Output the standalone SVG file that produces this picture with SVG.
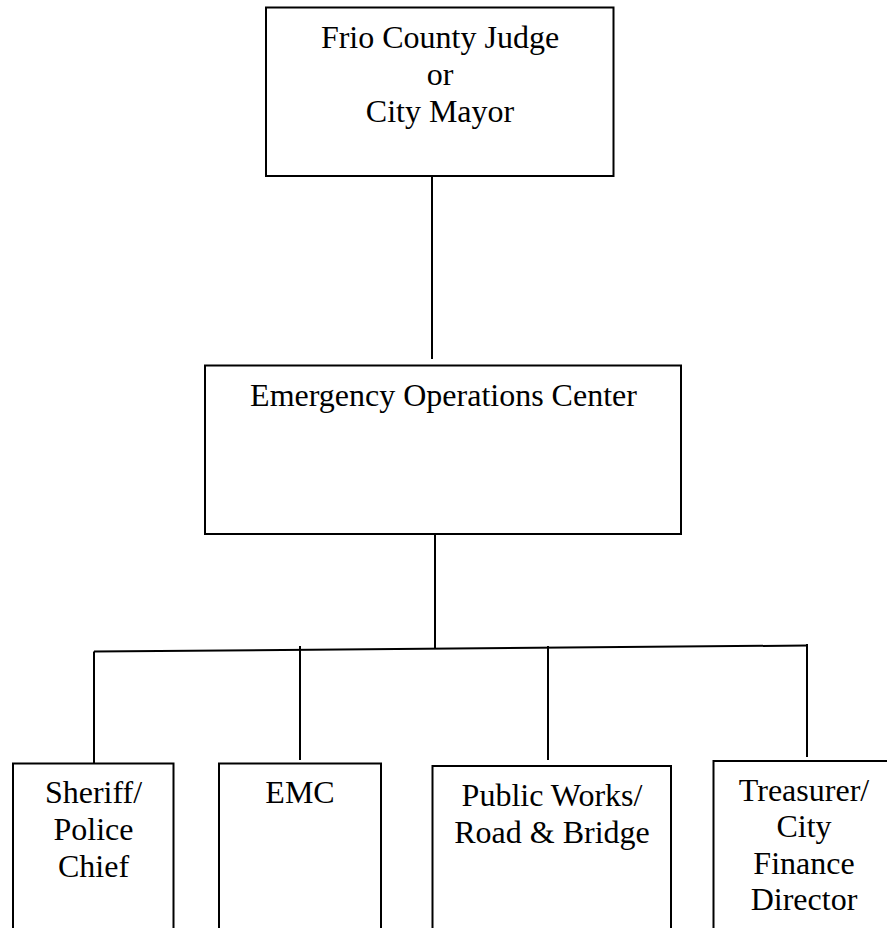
<svg xmlns="http://www.w3.org/2000/svg" width="887" height="928" viewBox="0 0 887 928">
<style>
.box{fill:#fff;stroke:#000;stroke-width:2}
.ln{stroke:#000;stroke-width:2;fill:none}
text{font-family:"Liberation Serif","Times New Roman",serif;font-size:32px;fill:#000;text-anchor:middle}
</style>
<rect width="887" height="928" fill="#fff"/>
<g id="connectors">
<line class="ln" x1="432" y1="176" x2="432" y2="359"/>
<line class="ln" x1="435" y1="534" x2="435" y2="648.5"/>
<line class="ln" x1="94" y1="651.5" x2="807" y2="645.5"/>
<line class="ln" x1="94" y1="651.5" x2="94" y2="765"/>
<line class="ln" x1="300" y1="646" x2="300" y2="760"/>
<line class="ln" x1="548" y1="646" x2="548" y2="760"/>
<line class="ln" x1="807" y1="644" x2="807" y2="757"/>
</g>
<g id="judge">
<rect class="box" x="266" y="7.5" width="347.5" height="168.5"/>
<text x="440" y="48">Frio County Judge</text>
<text x="440" y="85">or</text>
<text x="440" y="122">City Mayor</text>
</g>
<g id="eoc">
<rect class="box" x="205" y="365.5" width="476" height="168.5"/>
<text x="443.5" y="406">Emergency Operations Center</text>
</g>
<g id="sheriff">
<rect class="box" x="13" y="763.5" width="160.5" height="180"/>
<text x="93.5" y="803">Sheriff/</text>
<text x="93.5" y="840">Police</text>
<text x="93.5" y="877">Chief</text>
</g>
<g id="emc">
<rect class="box" x="219" y="763.5" width="162" height="180"/>
<text x="300" y="803">EMC</text>
</g>
<g id="publicworks">
<rect class="box" x="432.5" y="766" width="238.5" height="180"/>
<text x="552" y="806">Public Works/</text>
<text x="552" y="843">Road &amp; Bridge</text>
</g>
<g id="treasurer">
<rect class="box" x="713.5" y="761" width="190" height="180"/>
<text x="804" y="801">Treasurer/</text>
<text x="804" y="837">City</text>
<text x="804" y="874">Finance</text>
<text x="804" y="910">Director</text>
</g>
</svg>
